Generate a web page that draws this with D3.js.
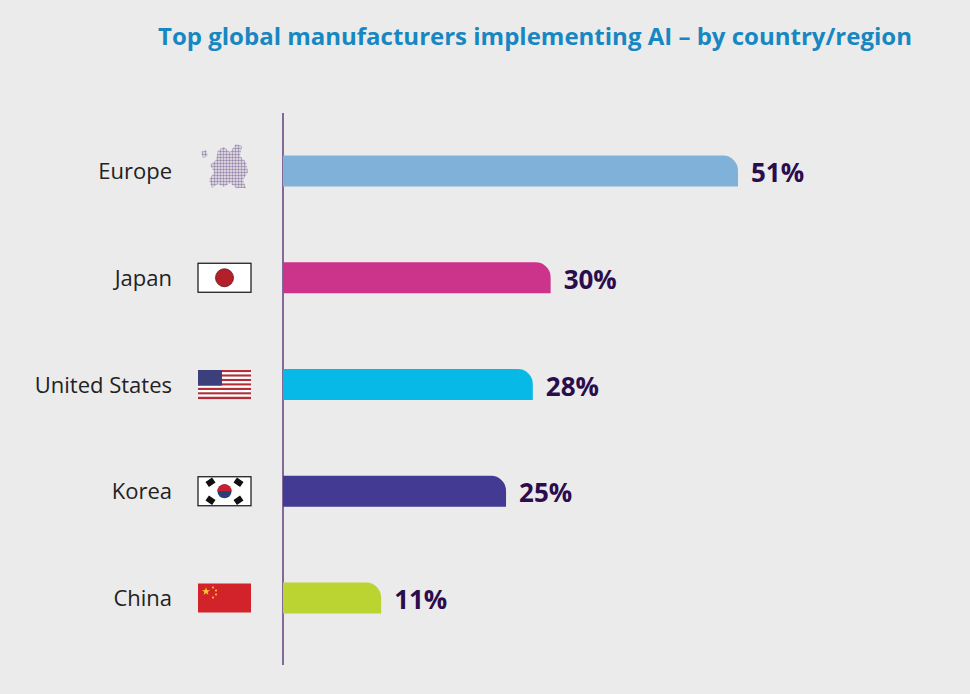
<!DOCTYPE html>
<html><head><meta charset="utf-8">
<script src="https://cdn.jsdelivr.net/npm/d3@7"></script>
<style>body{margin:0;background:#ebebeb;}svg{display:block;font-family:"Open Sans",sans-serif;}</style>
</head><body><div id="chart"></div>
<script>
var regions = ["Europe", "Japan", "United States", "Korea", "China"];
var shares = [51, 30, 28, 25, 11];
var colors = ["#80b1d8", "#cc348c", "#06b9e6", "#423a93", "#bcd431"];

var w = 970, h = 694;
var svg = d3.select("#chart").append("svg").attr("width", w).attr("height", h);

var defs = svg.append("defs");
var pat = defs.append("pattern").attr("id", "dots").attr("width", 3).attr("height", 3)
  .attr("patternUnits", "userSpaceOnUse");
pat.append("circle").attr("cx", 1.5).attr("cy", 1.5).attr("r", 1.2).attr("fill", "#9a88b0");

svg.append("text").attr("x", 535).attr("y", 45).attr("text-anchor", "middle")
  .attr("fill", "#1787c2").attr("font-size", 24).attr("font-weight", 700)
  .text("Top global manufacturers implementing AI \u2013 by country/region");

var x = d3.scaleLinear().domain([0, 51]).range([283, 738]);
var y = d3.scalePoint().domain(regions).range([171, 598]);
var bh = 31, r = 15;

svg.append("line").attr("x1", 283).attr("x2", 283).attr("y1", 113).attr("y2", 665)
  .attr("stroke", "#5e3f7e").attr("stroke-width", 1.5);

function barPath(x0, x1, yc) {
  var t = yc - bh / 2, b = yc + bh / 2;
  return "M" + x0 + "," + b + "V" + t + "H" + (x1 - r) +
    "A" + r + "," + r + " 0 0 1 " + x1 + "," + (t + r) + "V" + b + "Z";
}

var g = svg.selectAll("g.row").data(regions).enter().append("g");
g.append("path").attr("d", function(d, i) { return barPath(x(0), x(shares[i]), y(d)); })
  .attr("fill", function(d, i) { return colors[i]; });
g.append("text").attr("x", 172).attr("y", function(d) { return y(d) + 8; })
  .attr("text-anchor", "end").attr("font-size", 22).attr("fill", "#222").text(function(d) { return d; });
g.append("text").attr("x", function(d, i) { return x(shares[i]) + 13; }).attr("y", function(d) { return y(d) + 11; })
  .attr("font-size", 26).attr("font-weight", 700).attr("fill", "#2b0c4c")
  .text(function(d, i) { return shares[i] + "%"; });

// flags
var fx = 198, fw = 53, fh = 29;
function fy(name) { return y(name) - fh / 2; }

// Europe (dotted map)
svg.append("path").attr("fill", "url(#dots)")
  .attr("d", "M218,150 L224,147 L230,152 L236,144 L242,146 L240,156 L246,162 L248,172 L243,180 L246,188 L236,188 L230,183 L224,187 L218,184 L212,188 L209,180 L214,172 L210,165 L216,160 Z M201,152 L206,150 L208,156 L203,158 Z");

// Japan
svg.append("rect").attr("x", fx).attr("y", fy("Japan")).attr("width", fw).attr("height", fh)
  .attr("fill", "#fff").attr("stroke", "#111").attr("stroke-width", 1.2);
svg.append("circle").attr("cx", fx + fw / 2).attr("cy", y("Japan")).attr("r", 9)
  .attr("fill", "#b3202a").attr("stroke", "#5a1015").attr("stroke-width", 0.8);

// USA
var us = svg.append("g");
for (var k = 0; k < 13; k++) {
  us.append("rect").attr("x", fx).attr("y", fy("United States") + k * fh / 13)
    .attr("width", fw).attr("height", fh / 13 + 0.1).attr("fill", k % 2 ? "#fff" : "#b22f38");
}
us.append("rect").attr("x", fx).attr("y", fy("United States")).attr("width", 24).attr("height", fh * 7 / 13)
  .attr("fill", "#3b3f7c");

// Korea
var ky = y("Korea"), kx = fx + fw / 2;
svg.append("rect").attr("x", fx).attr("y", fy("Korea")).attr("width", fw).attr("height", fh)
  .attr("fill", "#fff").attr("stroke", "#111").attr("stroke-width", 1.2);
svg.append("circle").attr("cx", kx).attr("cy", ky).attr("r", 7).attr("fill", "#2b3d7a");
svg.append("path").attr("d", "M" + (kx - 7) + "," + ky + "A7,7 0 0 1 " + (kx + 7) + "," + ky + "Z").attr("fill", "#c8202f");
[[-1, -1], [1, -1], [-1, 1], [1, 1]].forEach(function(p) {
  svg.append("rect").attr("x", kx + p[0] * 14 - 4).attr("y", ky + p[1] * 9 - 3).attr("width", 8).attr("height", 6)
    .attr("fill", "#111").attr("transform", "rotate(" + (p[0] * p[1] * -35) + "," + (kx + p[0] * 14) + "," + (ky + p[1] * 9) + ")");
});

// China
svg.append("rect").attr("x", fx).attr("y", fy("China")).attr("width", fw).attr("height", fh).attr("fill", "#d2232a");
svg.append("path").attr("d", d3.symbol(d3.symbolStar, 20)()).attr("transform", "translate(" + (fx + 8) + "," + (fy("China") + 8) + ")").attr("fill", "#f7d22a");
[[15, 4], [18, 7], [18, 11], [15, 14]].forEach(function(p) {
  svg.append("circle").attr("cx", fx + p[0]).attr("cy", fy("China") + p[1]).attr("r", 1).attr("fill", "#f7d22a");
});
</script></body></html>
